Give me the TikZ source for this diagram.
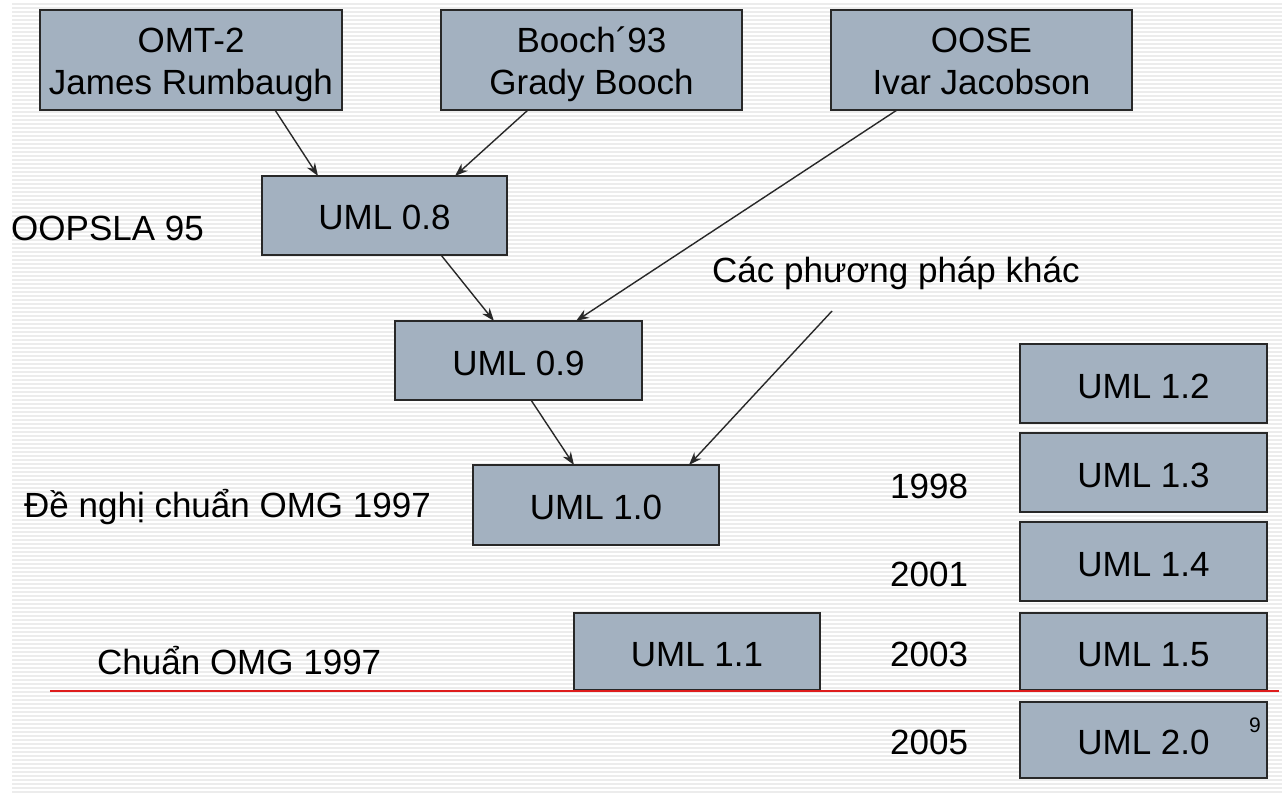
\documentclass[tikz,border=0pt]{standalone}
\usepackage{fontspec}
\setmainfont{Liberation Sans}
\usetikzlibrary{arrows.meta}
\definecolor{boxfill}{RGB}{163,177,192}
\definecolor{stripe}{RGB}{236,236,236}
\definecolor{edge}{RGB}{40,40,40}
\definecolor{redrule}{RGB}{222,28,28}
\tikzset{
  x=1pt, y=-1pt,
  ver/.style={draw=edge, line width=1.6pt, fill=boxfill, inner sep=0pt, outer sep=0pt,
    align=center, font=\fontsize{35}{42}\selectfont},
  single/.style={ver, text height=29pt, text depth=0pt},
  lbl/.style={inner sep=0pt, font=\fontsize{35}{42}\selectfont},
  flow/.style={draw=edge, line width=1.4pt, -{Stealth[length=13pt,width=9.5pt]}},
}
\newcommand\topline{\rule{0pt}{35pt}}
\newcommand\botline{\rule[-8pt]{0pt}{8pt}}
\begin{document}
\begin{tikzpicture}
\useasboundingbox (0,0) rectangle (1282,794);
\fill[white] (0,0) rectangle (1282,794);
% ruled background
\foreach \k in {0,...,197}
  \fill[stripe] (12,{3+4*\k}) rectangle (1282,{4.8+4*\k});

% method boxes
\node[ver, minimum width=302pt, minimum height=100pt] (omt)   at (191,60)    {\topline OMT-2\\James Rumbaugh\botline};
\node[ver, minimum width=301pt, minimum height=100pt] (booch) at (591.5,60)  {\topline Booch´93\\Grady Booch\botline};
\node[ver, minimum width=301pt, minimum height=100pt] (oose)  at (981.5,60)  {\topline OOSE\\Ivar Jacobson\botline};

% versions
\node[single, minimum width=245pt, minimum height=79pt] (u08) at (384.5,215.5) {UML 0.8};
\node[single, minimum width=247pt, minimum height=79pt] (u09) at (518.5,360.5) {UML 0.9};
\node[single, minimum width=246pt, minimum height=80pt] (u10) at (596,505)     {UML 1.0};
\node[single, minimum width=246pt, minimum height=77pt] (u11) at (697,651.5)   {UML 1.1};
\node[single, minimum width=247pt, minimum height=79pt] (u12) at (1143.5,383.5) {UML 1.2};
\node[single, minimum width=247pt, minimum height=79pt] (u13) at (1143.5,472.5) {UML 1.3};
\node[single, minimum width=247pt, minimum height=79pt] (u14) at (1143.5,561.5) {UML 1.4};
\node[single, minimum width=247pt, minimum height=77pt] (u15) at (1143.5,651.5) {UML 1.5};
\node[single, minimum width=247pt, minimum height=76pt] (u20) at (1143.5,740)   {UML 2.0};

% labels
\node[lbl, anchor=west] (oopsla) at (11,228)  {OOPSLA 95};
\node[lbl, anchor=west] (khac)   at (712,273) {Các phương pháp khác};
\node[lbl, anchor=west] (denghi) at (24,507)  {Đề nghị chuẩn OMG 1997};
\node[lbl, anchor=west] (chuan)  at (97,661)  {Chuẩn OMG 1997};
\node[lbl, anchor=west] (y98) at (890,486) {1998};
\node[lbl, anchor=west] (y01) at (890,574) {2001};
\node[lbl, anchor=west] (y03) at (890,654) {2003};
\node[lbl, anchor=west] (y05) at (890,742) {2005};
\node[inner sep=0pt, font=\fontsize{21}{24}\selectfont] (pg) at (1255,725) {9};

% standard line
\coordinate (rl) at (50,691);
\coordinate (rr) at (1279,691);
\draw[redrule, line width=1.5pt] (rl) -- (rr);

% derivations
\coordinate (others) at (832,311);
\draw[flow] ([xshift=84pt]omt.south)    -- ([xshift=-66.5pt]u08.north);
\draw[flow] ([xshift=-63.5pt]booch.south) -- ([xshift=70.5pt]u08.north);
\draw[flow] ([xshift=56.5pt]u08.south)  -- ([xshift=-24.5pt]u09.north);
\draw[flow] ([xshift=-84.5pt]oose.south) -- ([xshift=57.5pt]u09.north);
\draw[flow] ([xshift=12.5pt]u09.south)  -- ([xshift=-22pt]u10.north);
\draw[flow] (others) -- ([xshift=93pt]u10.north);
\end{tikzpicture}
\end{document}
